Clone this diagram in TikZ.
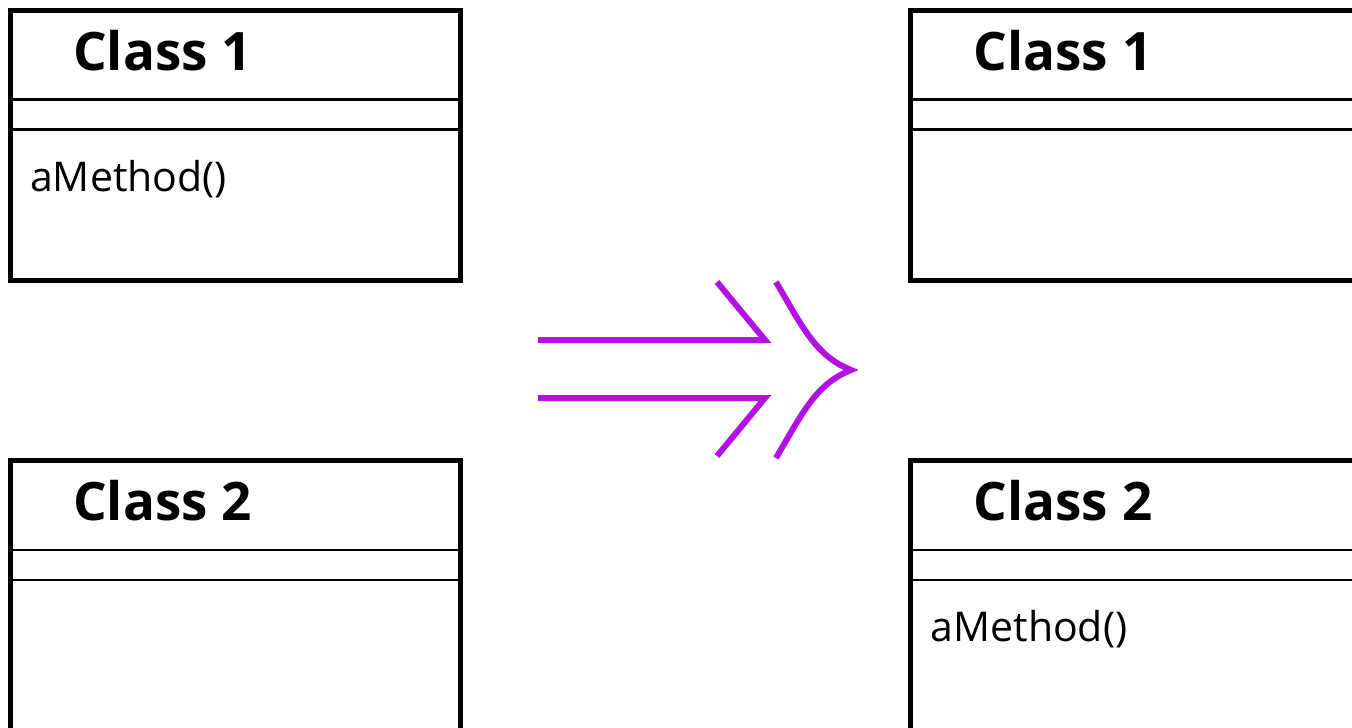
\documentclass[tikz,border=0pt]{standalone}
\usepackage{fontspec}
\setmainfont{Open Sans}
\definecolor{arrowpurple}{HTML}{B310E3}
\begin{document}
\begin{tikzpicture}[x=1pt,y=-1pt,
  classbox/.style={draw, line width=5pt, minimum width=450pt, minimum height=270pt, anchor=north west, inner sep=0pt, outer sep=0pt},
  sepline/.style={line width=2.5pt},
  classtitle/.style={anchor=base west, inner sep=0pt, font=\fontsize{53}{60}\selectfont\bfseries},
  method/.style={anchor=base west, inner sep=0pt, font=\fontsize{41}{48}\selectfont},
  refac/.style={draw=arrowpurple, line width=6pt}]
\useasboundingbox (0,0) rectangle (1352,728);
\clip (0,0) rectangle (1352,728);
% boxes
\node[classbox] (a1) at (10,10) {};
\node[classbox] (a2) at (10,460.5) {};
\node[classbox] (b1) at (910.5,10) {};
\node[classbox] (b2) at (910.5,460.5) {};
\foreach \b in {a1,a2,b1,b2}{
  \draw[sepline] ([yshift=-89.3pt]\b.north west) -- ([yshift=-89.3pt]\b.north east);
  \draw[sepline] ([yshift=-119.5pt]\b.north west) -- ([yshift=-119.5pt]\b.north east);
}
% titles
\node[classtitle] (ta1) at ([xshift=63pt,yshift=-60pt]a1.north west) {Class 1};
\node[classtitle] (ta2) at ([xshift=63pt,yshift=-60pt]a2.north west) {Class 2};
\node[classtitle] (tb1) at ([xshift=63pt,yshift=-60pt]b1.north west) {Class 1};
\node[classtitle] (tb2) at ([xshift=63pt,yshift=-60pt]b2.north west) {Class 2};
% methods
\node[method] (ma1) at ([xshift=20pt,yshift=-181pt]a1.north west) {aMethod()};
\node[method] (mb2) at ([xshift=20pt,yshift=-181pt]b2.north west) {aMethod()};
% refactoring arrow
\draw[refac] (538,340) -- (765,340) -- (717,282);
\draw[refac] (538,398) -- (765,398) -- (717,456);
\draw[refac] (776,282) .. controls (803,328) and (816,356) .. (851,370)
  .. controls (816,384) and (803,412) .. (776,458);
\end{tikzpicture}
\end{document}
